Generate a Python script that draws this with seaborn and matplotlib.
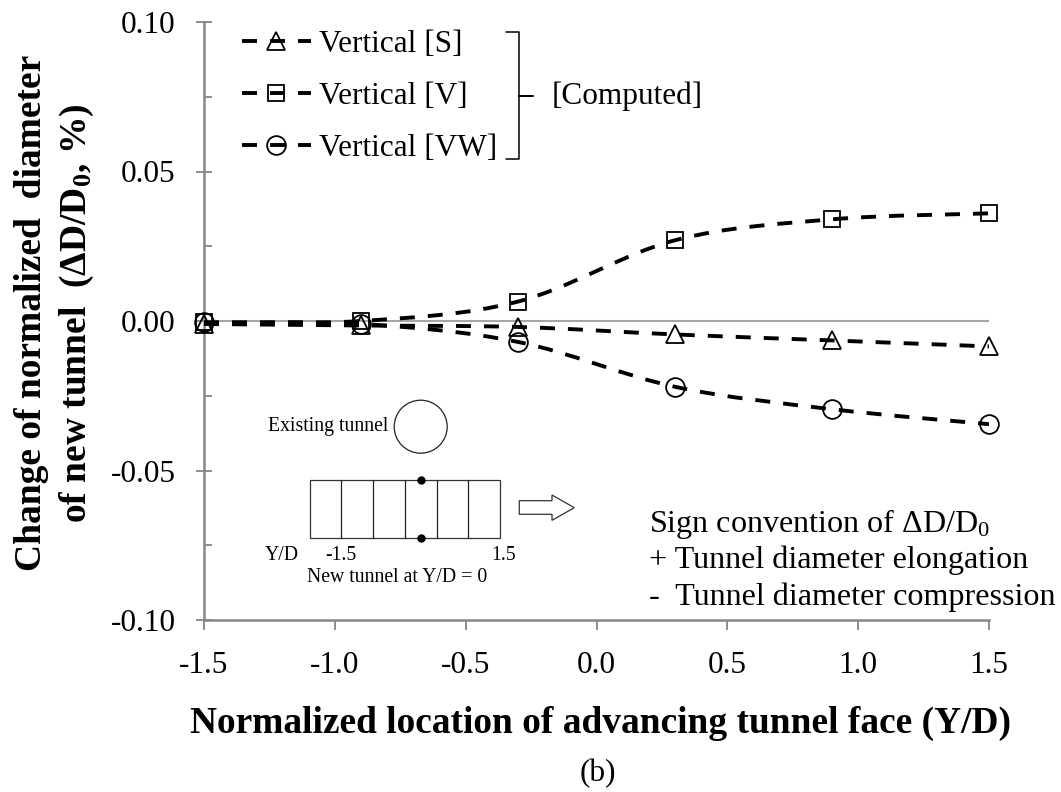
import matplotlib
matplotlib.use("Agg")
import matplotlib.pyplot as plt
import seaborn as sns
import numpy as np
import pandas as pd
from matplotlib.path import Path
from matplotlib.patches import PathPatch, Circle, Rectangle, Polygon
from matplotlib.lines import Line2D

location = [-1.5, -0.9, -0.3, 0.3, 0.9, 1.5]
vertical_s = [-0.001, -0.0015, -0.002, -0.0045, -0.0065, -0.0085]
vertical_v = [-0.0005, 0.0, 0.0065, 0.027, 0.034, 0.036]
vertical_vw = [-0.0005, -0.001, -0.007, -0.022, -0.0295, -0.0345]
series_names = ["Vertical [S]", "Vertical [V]", "Vertical [VW]"]
x_ticks = [-1.5, -1.0, -0.5, 0.0, 0.5, 1.0, 1.5]
y_ticks = [-0.10, -0.05, 0.00, 0.05, 0.10]

sns.set_theme(style="white")
plt.rcParams.update({
    "font.family": ["Liberation Serif", "DejaVu Serif"],
    "mathtext.fontset": "custom",
    "mathtext.rm": "Liberation Serif",
    "mathtext.bf": "Liberation Serif:bold",
    "mathtext.it": "Liberation Serif:italic",
    "text.color": "black",
    "xtick.labelcolor": "black",
    "ytick.labelcolor": "black",
})
W, H = 1061, 792
GRAY = "#868686"
FS = 22.5
fig = plt.figure(figsize=(W / 100, H / 100), dpi=100, facecolor="white")
ax = fig.add_axes([204 / W, 1 - 620 / H, (989 - 204) / W, (620 - 22) / H])
ax.set_xlim(-1.5, 1.5)
ax.set_ylim(-0.10, 0.10)

LW = 2.8
DASH = (0, (3.85, 3.35))
df = pd.DataFrame({
    "loc": location * 3,
    "val": vertical_s + vertical_v + vertical_vw,
    "series": np.repeat(series_names, len(location)),
})
markers = {"Vertical [S]": ("^", 13.5), "Vertical [V]": ("s", 12), "Vertical [VW]": ("o", 13.5)}


def smooth_path(xs, ys):
    p = np.column_stack([xs, ys])
    verts = [p[0]]
    codes = [Path.MOVETO]
    for i in range(len(p) - 1):
        a = p[max(i - 1, 0)]
        d = p[min(i + 2, len(p) - 1)]
        verts += [p[i] + (p[i + 1] - a) / 6, p[i + 1] - (d - p[i]) / 6, p[i + 1]]
        codes += [Path.CURVE4] * 3
    return Path(verts, codes)


ax.axhline(0, color="#a6a6a6", lw=1.5, zorder=1)
handles = []
for name in series_names:
    sub = df[df["series"] == name]
    mk, ms = markers[name]
    ax.add_patch(PathPatch(smooth_path(sub["loc"].values, sub["val"].values), fill=False,
                           ec="black", lw=LW, ls=DASH, capstyle="butt", zorder=3))
    sns.lineplot(data=sub, x="loc", y="val", ax=ax, linestyle="none", marker=mk, markersize=ms,
                 markerfacecolor="none", markeredgecolor="black", markeredgewidth=1.3,
                 color="black", clip_on=False, zorder=4, legend=False, errorbar=None)
    handles.append(Line2D([], [], color="black", lw=LW, ls=DASH, dash_capstyle="butt", marker=mk,
                          markersize=ms, markerfacecolor="none", markeredgecolor="black",
                          markeredgewidth=1.3, label=name))

ax.set_xlabel("")
ax.set_ylabel("")
for s in ("top", "right"):
    ax.spines[s].set_visible(False)
for s in ("left", "bottom"):
    ax.spines[s].set_color(GRAY)
    ax.spines[s].set_linewidth(1.8)
ax.set_xticks(x_ticks)
ax.set_xticklabels([f"{v:.1f}" for v in x_ticks], fontsize=FS, color="black")
ax.set_yticks(y_ticks)
ax.set_yticklabels([f"{v:.2f}" for v in y_ticks], fontsize=FS, color="black")
ax.set_yticks(np.arange(-0.075, 0.1, 0.05), minor=True)
ax.tick_params(axis="x", which="major", direction="out", length=7, width=1.3, color=GRAY, pad=15, bottom=True)
ax.tick_params(axis="y", which="major", direction="inout", length=11, width=1.3, color=GRAY, pad=14.8, left=True)
ax.tick_params(axis="y", which="minor", direction="in", length=5.5, width=1.3, color=GRAY, left=True)

ax.legend(handles=handles, loc="upper left", bbox_to_anchor=(242 / W, 1 - 30 / H), bbox_transform=fig.transFigure,
          frameon=False, fontsize=FS, handlelength=2.2, handletextpad=0.26, labelspacing=0.74,
          borderpad=0, borderaxespad=0, labelcolor="black")

# overlay in reference pixel coordinates for annotations
ov = fig.add_axes([0, 0, 1, 1], facecolor="none")
ov.set_xlim(0, W)
ov.set_ylim(H, 0)
ov.axis("off")
T = dict(color="black", va="center")
B = dict(color="black", va="baseline")

# bracket and label
ov.plot([506, 519, 519, 532.5, 519, 519, 506], [32, 32, 96, 96, 96, 159, 159], color="black", lw=1.1)
ov.text(552, 96, "[Computed]", fontsize=FS, ha="left", **T)

# inset sketch
IN = 14.2
ov.text(268, 427, "Existing tunnel", fontsize=IN, ha="left", **T)
ov.add_patch(Circle((420.7, 426.7), 26.5, fill=False, ec="#222222", lw=0.9))
ov.add_patch(Rectangle((309.7, 479.7), 190.6, 58.6, fill=False, ec="#333333", lw=0.9))
for dx in (341.3, 373.3, 405, 436.7, 468.3):
    ov.plot([dx, dx], [479.7, 538.3], color="#222222", lw=0.9)
ov.plot([420.7, 420.7], [479.7, 538.3], ls="none", marker="o", ms=5, color="black")
ov.add_patch(Polygon([(519.3, 500.7), (552, 500.7), (552, 495), (574.3, 507.7), (552, 520.3), (552, 514.3), (519.3, 514.3)],
                     closed=True, fill=False, ec="#333333", lw=0.9))
ov.text(265, 555, "Y/D", fontsize=IN, ha="left", **T)
ov.text(325, 556, "-1.5", fontsize=IN, ha="left", **T)
ov.text(491, 555, "1.5", fontsize=IN, ha="left", **T)
ov.text(307, 577, "New tunnel at Y/D = 0", fontsize=IN, ha="left", **T)

# sign convention
SG = 23.1
ov.text(649, 532, r"Sign convention of ΔD/D$\mathrm{_0}$", fontsize=SG, ha="left", **B)
ov.text(649, 568, "+ Tunnel diameter elongation", fontsize=SG, ha="left", **B)
ov.text(649, 605, "-  Tunnel diameter compression", fontsize=SG, ha="left", **B)

# axis titles
ov.text(600, 733, "Normalized location of advancing tunnel face (Y/D)", fontsize=26.9, fontweight="bold",
        ha="center", **B)
ov.text(40.7, 313, "Change of normalized  diameter", fontsize=27, fontweight="bold", rotation=90,
        ha="center", rotation_mode="anchor", **B)
ov.text(86, 313, r"of new tunnel  (ΔD/D$\mathbf{_0}$, %)", fontsize=27, fontweight="bold", rotation=90,
        ha="center", rotation_mode="anchor", **B)
ov.text(597.5, 781, "(b)", fontsize=FS, ha="center", **B)

fig.savefig("out.png", dpi=100)
